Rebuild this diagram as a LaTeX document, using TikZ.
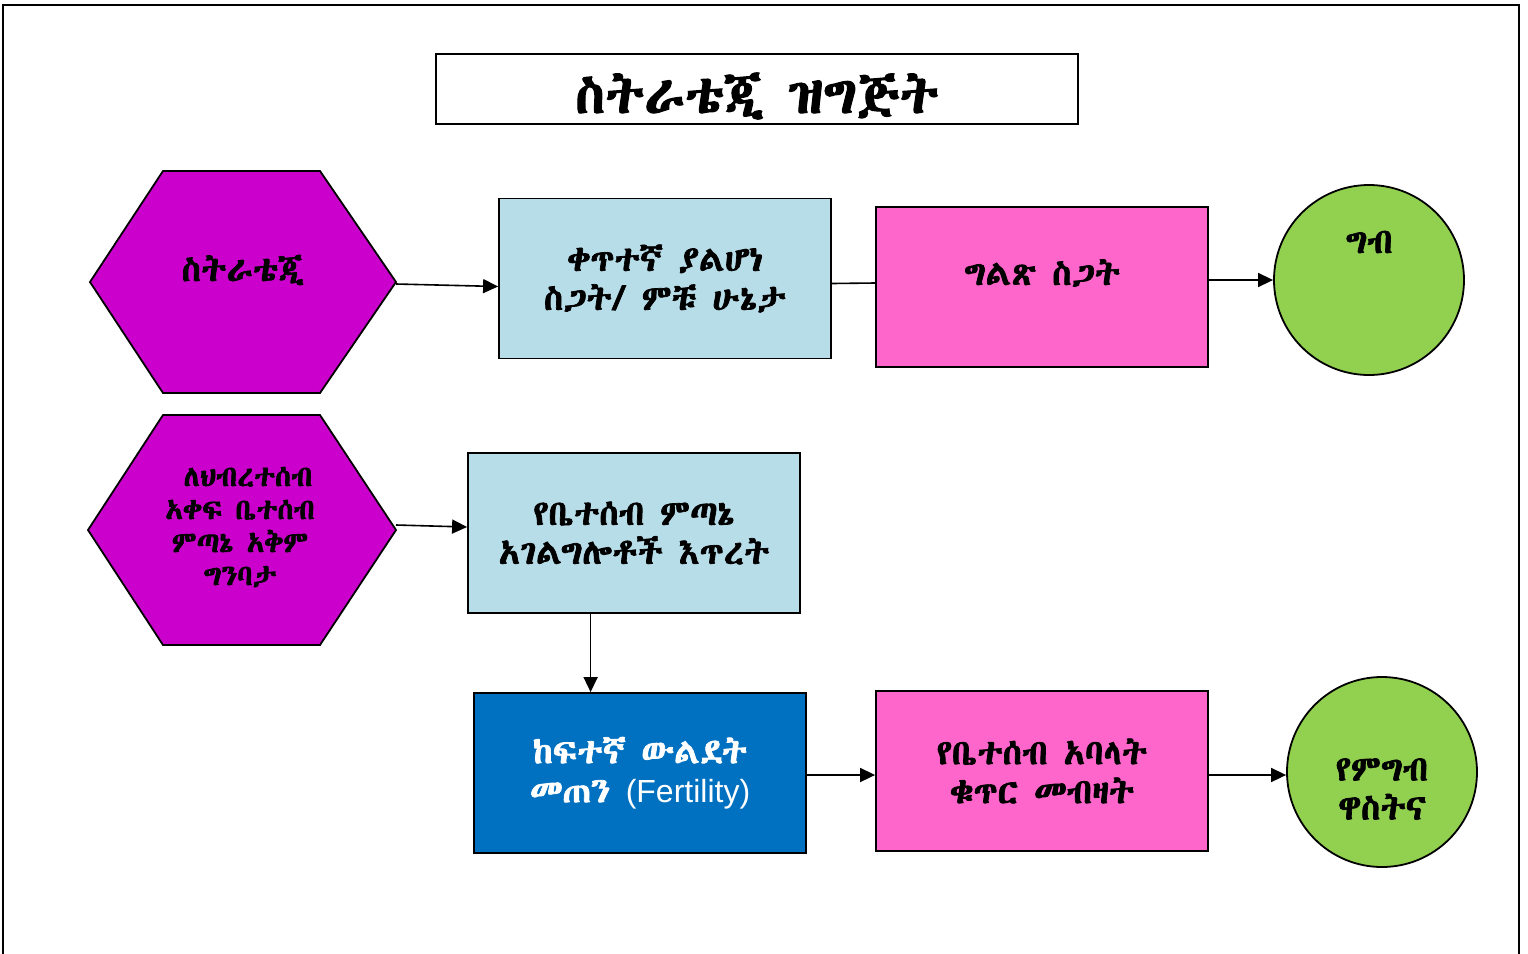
\documentclass[tikz,border=0pt]{standalone}
\usepackage{fontspec}
\usetikzlibrary{arrows.meta,calc}
\IfFontExistsTF{Abyssinica SIL}{\newfontfamily\ethfont{Abyssinica SIL}[FakeBold=2]}{%
 \IfFontExistsTF{FreeSerif.otf}{\newfontfamily\ethfont{FreeSerif.otf}[FakeBold=2]}{%
  \IfFontExistsTF{Noto Sans Ethiopic}{\newfontfamily\ethfont{Noto Sans Ethiopic}[FakeBold=1]}{%
   \newfontfamily\ethfont{DejaVu Sans}}}}
\newfontfamily\latinsans{Liberation Sans}
\definecolor{hexpurple}{HTML}{CC00CC}
\definecolor{paleblue}{HTML}{B7DDE8}
\definecolor{hotpink}{HTML}{FF66CC}
\definecolor{leafgreen}{HTML}{92D050}
\definecolor{deepblue}{HTML}{0070C0}
\tikzset{
  bodyfont/.style={font=\ethfont\fontsize{17.5}{19.5}\selectfont},
  box/.style={draw, line width=0.9pt, minimum width=166pt, minimum height=80pt, align=center, bodyfont},
  bluebox/.style={box, fill=paleblue},
  pinkbox/.style={box, fill=hotpink},
  darkbox/.style={box, fill=deepblue, text=white},
  goal/.style={draw, circle, line width=0.9pt, fill=leafgreen, minimum size=95pt, align=center, bodyfont},
  hexagon/.style={draw, line width=0.9pt, fill=hexpurple},
  hextext/.style={align=center, bodyfont},
  arrow/.style={line width=0.8pt, -{Triangle[length=7.5pt,width=7pt]}},
}
\begin{document}
\begin{tikzpicture}[x=0.5pt,y=-0.5pt]
    \useasboundingbox (0,0) rectangle (1528,954);
    % frame, open at the bottom
    \draw[line width=1.2pt] (3,954) -- (3,5) -- (1519,5) -- (1519,954);
    \node[draw, line width=0.8pt, minimum width=321pt, minimum height=35pt,
          label={[font=\ethfont\fontsize{27}{30}\selectfont, yshift=-3.5pt]center:ስትራቴጂ ዝግጅት}] (title) at (757,89) {};

    % first row
    \draw[hexagon] (90,282) -- (163,171) -- (320,171) -- (396,282) -- (320,393) -- (163,393) -- cycle;
    \coordinate (strategy-e) at (396,284);
    \node[hextext] (strategy) at (243,270) {ስትራቴጂ};
    \node[bluebox] (indirect) at (665,278.5) {ቀጥተኛ ያልሆነ\\ስጋት/ ምቹ ሁኔታ};
    \node[pinkbox, label={[bodyfont, yshift=7pt]center:ግልጽ ስጋት}] (direct) at (1042,287) {};
    \node[goal, label={[bodyfont, yshift=19pt]center:ግብ}] (goal) at (1369,280) {};

    % second row
    \draw[hexagon] (88,530) -- (163,415) -- (320,415) -- (396,530) -- (320,645) -- (163,645) -- cycle;
    \coordinate (capacity-e) at (396,525);
    \node[hextext, font=\ethfont\fontsize{14.5}{16.5}\selectfont] (capacity) at (240,527)
        {\hspace{8pt}ለህብረተሰብ\\አቀፍ ቤተሰብ\\ምጣኔ አቅም\\ግንባታ};
    \node[bluebox] (service) at (634,533) {የቤተሰብ ምጣኔ\\አገልግሎቶች እጥረት};

    % third row
    \node[darkbox] (fertility) at (640,773) {ከፍተኛ ውልደት\\መጠን {\latinsans\fontsize{16}{19.5}\selectfont (Fertility)}};
    \node[pinkbox] (members) at (1042,771) {የቤተሰብ አባላት\\ቁጥር መብዛት};
    \node[goal, label={[bodyfont, align=center, yshift=-8.5pt]center:የምግብ\\ዋስትና}] (security) at (1382,772) {};

    % connectors
    \draw[arrow] (strategy-e) -- ($(indirect.west)+(0,8)$);
    \draw[line width=0.8pt] ($(indirect.east)+(0,5)$) -- ($(direct.west)+(0,-4)$);
    \draw[arrow] (direct.east |- goal.west) -- (goal.west);
    \draw[arrow] (capacity-e) -- ($(service.west)+(0,-6)$);
    \coordinate (drop) at ($(service.south west)!0.37!(service.south east)$);
    \draw[arrow] (drop) -- (drop |- fertility.north);
    \draw[arrow] ($(fertility.east)+(0,2)$) -- ($(members.west)+(0,4)$);
    \draw[arrow] ($(members.east)+(0,4)$) -- ($(security.west)+(0,3)$);
\end{tikzpicture}
\end{document}
